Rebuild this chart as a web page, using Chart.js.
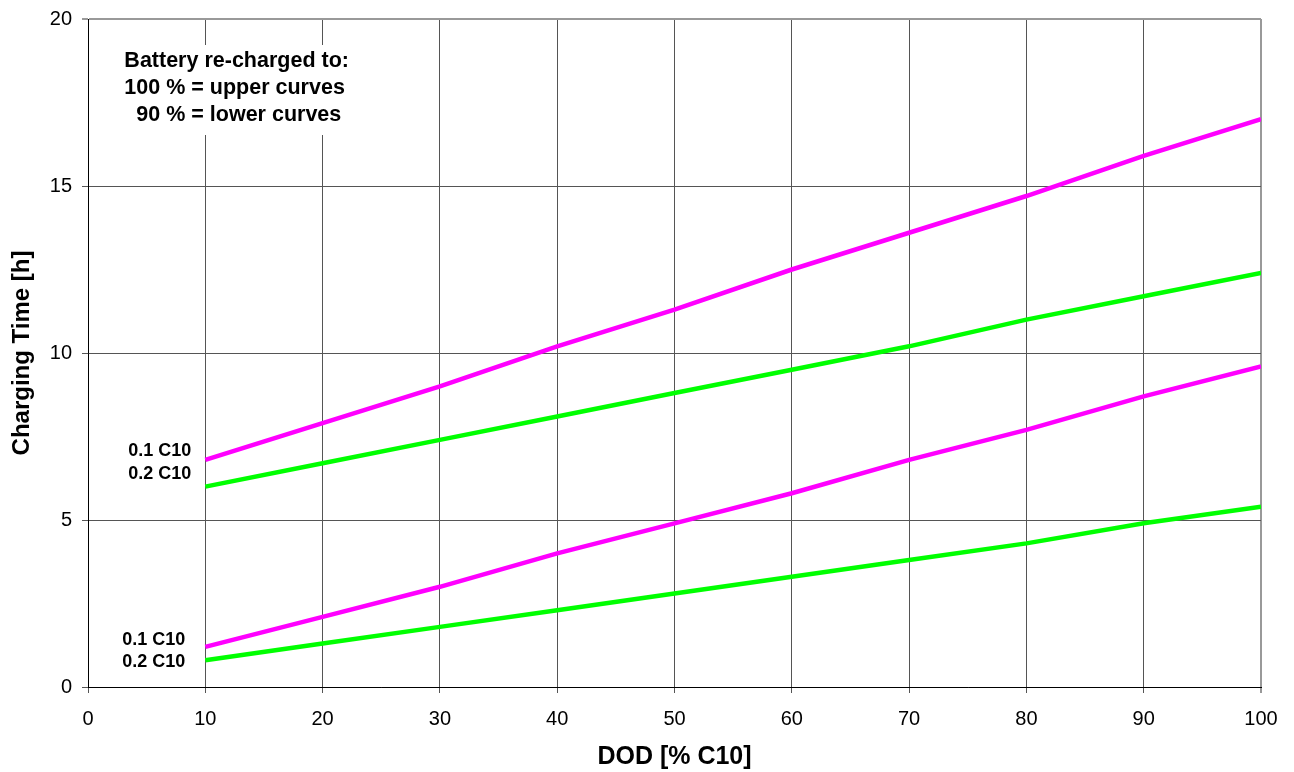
<!DOCTYPE html>
<html>
<head>
<meta charset="utf-8">
<script src="https://cdn.jsdelivr.net/npm/chart.js@4"></script>
<style>
  html, body { margin: 0; padding: 0; background: #fff; }
  #wrap { width: 1294px; height: 772px; }
</style>
</head>
<body>
<div id="wrap"><canvas id="chart" width="1294" height="772"></canvas></div>
<script>
// DOD values (% C10)
const dod = [10, 20, 30, 40, 50, 60, 70, 80, 90, 100]

// charging time [h]
const upper01 = [6.8, 7.9, 9.0, 10.2, 11.3, 12.5, 13.6, 14.7, 15.9, 17.0]
const upper02 = [6.0, 6.7, 7.4, 8.1, 8.8, 9.5, 10.2, 11.0, 11.7, 12.4]
const lower01 = [1.2, 2.1, 3.0, 4.0, 4.9, 5.8, 6.8, 7.7, 8.7, 9.6]
const lower02 = [0.8, 1.3, 1.8, 2.3, 2.8, 3.3, 3.8, 4.3, 4.9, 5.4]

const xTicks = [0, 10, 20, 30, 40, 50, 60, 70, 80, 90, 100]
const yTicks = [0, 5, 10, 15, 20]

const noteLines = ['Battery re-charged to:', '100 % = upper curves', '  90 % = lower curves']
const rateLabels = ['0.1 C10', '0.2 C10']

const FONT = 'Arial, "Liberation Sans", sans-serif'

function toPoints(arr){
    return dod.map((d, i) => ({ x: d, y: arr[i] }))
}

function makeSet(arr, color){
    return {
        data: toPoints(arr),
        borderColor: color,
        backgroundColor: color,
        borderWidth: 4.5,
        pointRadius: 0,
        tension: 0,
        fill: false
    }
}

const textPlugin = {
    id: 'notes',
    beforeDatasetsDraw(chart){
        const ctx = chart.ctx
        const xs = chart.scales.x
        ctx.save()
        // white box behind the note, covers grid lines
        const x0 = xs.getPixelForValue(1.9)
        const x1 = xs.getPixelForValue(23.5)
        ctx.fillStyle = '#fff'
        ctx.fillRect(x0, 45, x1 - x0, 90)
        ctx.restore()
    },
    afterDatasetsDraw(chart){
        const ctx = chart.ctx
        const xs = chart.scales.x
        const ys = chart.scales.y
        ctx.save()
        ctx.fillStyle = '#000'
        ctx.font = 'bold 21.5px ' + FONT
        ctx.textBaseline = 'middle'
        ctx.textAlign = 'left'
        const nx = xs.getPixelForValue(3.1)
        noteLines.forEach((t, i) => {
            ctx.fillText(t, nx, 61 + i * 27)
        })

        ctx.font = 'bold 18px ' + FONT
        ctx.textAlign = 'right'
        const px = xs.getPixelForValue(10)
        const upY = ys.getPixelForValue(upper01[0])
        ctx.fillText(rateLabels[0], px - 14, upY - 9)
        ctx.fillText(rateLabels[1], px - 14, upY + 14)
        const loY = ys.getPixelForValue(lower01[0])
        ctx.fillText(rateLabels[0], px - 20, loY - 7)
        ctx.fillText(rateLabels[1], px - 20, loY + 15)
        ctx.restore()
    }
}

function initChart(){
    const ctx = document.getElementById('chart').getContext('2d')
    new Chart(ctx, {
        type: 'line',
        data: {
            datasets: [
                makeSet(upper01, '#ff00ff'),
                makeSet(upper02, '#00ff00'),
                makeSet(lower01, '#ff00ff'),
                makeSet(lower02, '#00ff00')
            ]
        },
        options: {
            responsive: false,
            animation: false,
            layout: { padding: { top: 19, right: 33, left: 0, bottom: 0 } },
            plugins: {
                legend: { display: false },
                tooltip: { enabled: false }
            },
            scales: {
                x: {
                    type: 'linear',
                    min: 0,
                    max: 100,
                    afterBuildTicks: s => { s.ticks = xTicks.map(v => ({ value: v })) },
                    afterFit: s => { s.height = 85; s.paddingLeft = 0; s.paddingRight = 0 },
                    ticks: { color: '#000', font: { family: FONT, size: 20 }, padding: 14, maxRotation: 0 },
                    grid: {
                        color: c => (c.tick && c.tick.value === 100) ? '#999' : '#555',
                        lineWidth: c => (c.tick && c.tick.value === 100) ? 2 : 1,
                        tickLength: 6
                    },
                    border: { color: '#000', width: 1 },
                    title: {
                        display: true,
                        text: 'DOD [% C10]',
                        color: '#000',
                        font: { family: FONT, size: 25, weight: 'bold' },
                        padding: { top: 0, bottom: 0 }
                    }
                },
                y: {
                    type: 'linear',
                    min: 0,
                    max: 20,
                    afterBuildTicks: s => { s.ticks = yTicks.map(v => ({ value: v })) },
                    afterFit: s => { s.width = 88; s.paddingTop = 0; s.paddingBottom = 0 },
                    ticks: { color: '#000', font: { family: FONT, size: 20 }, padding: 10 },
                    grid: {
                        color: c => (c.tick && c.tick.value === 20) ? '#999' : '#555',
                        lineWidth: c => (c.tick && c.tick.value === 20) ? 2 : 1,
                        tickLength: 6
                    },
                    border: { color: '#000', width: 1 },
                    title: {
                        display: true,
                        text: 'Charging Time [h]',
                        color: '#000',
                        font: { family: FONT, size: 24, weight: 'bold' },
                        padding: { top: 8, bottom: 0 }
                    }
                }
            }
        },
        plugins: [textPlugin]
    })
}

document.addEventListener('DOMContentLoaded', () => {
    initChart()
})
</script>
</body>
</html>
